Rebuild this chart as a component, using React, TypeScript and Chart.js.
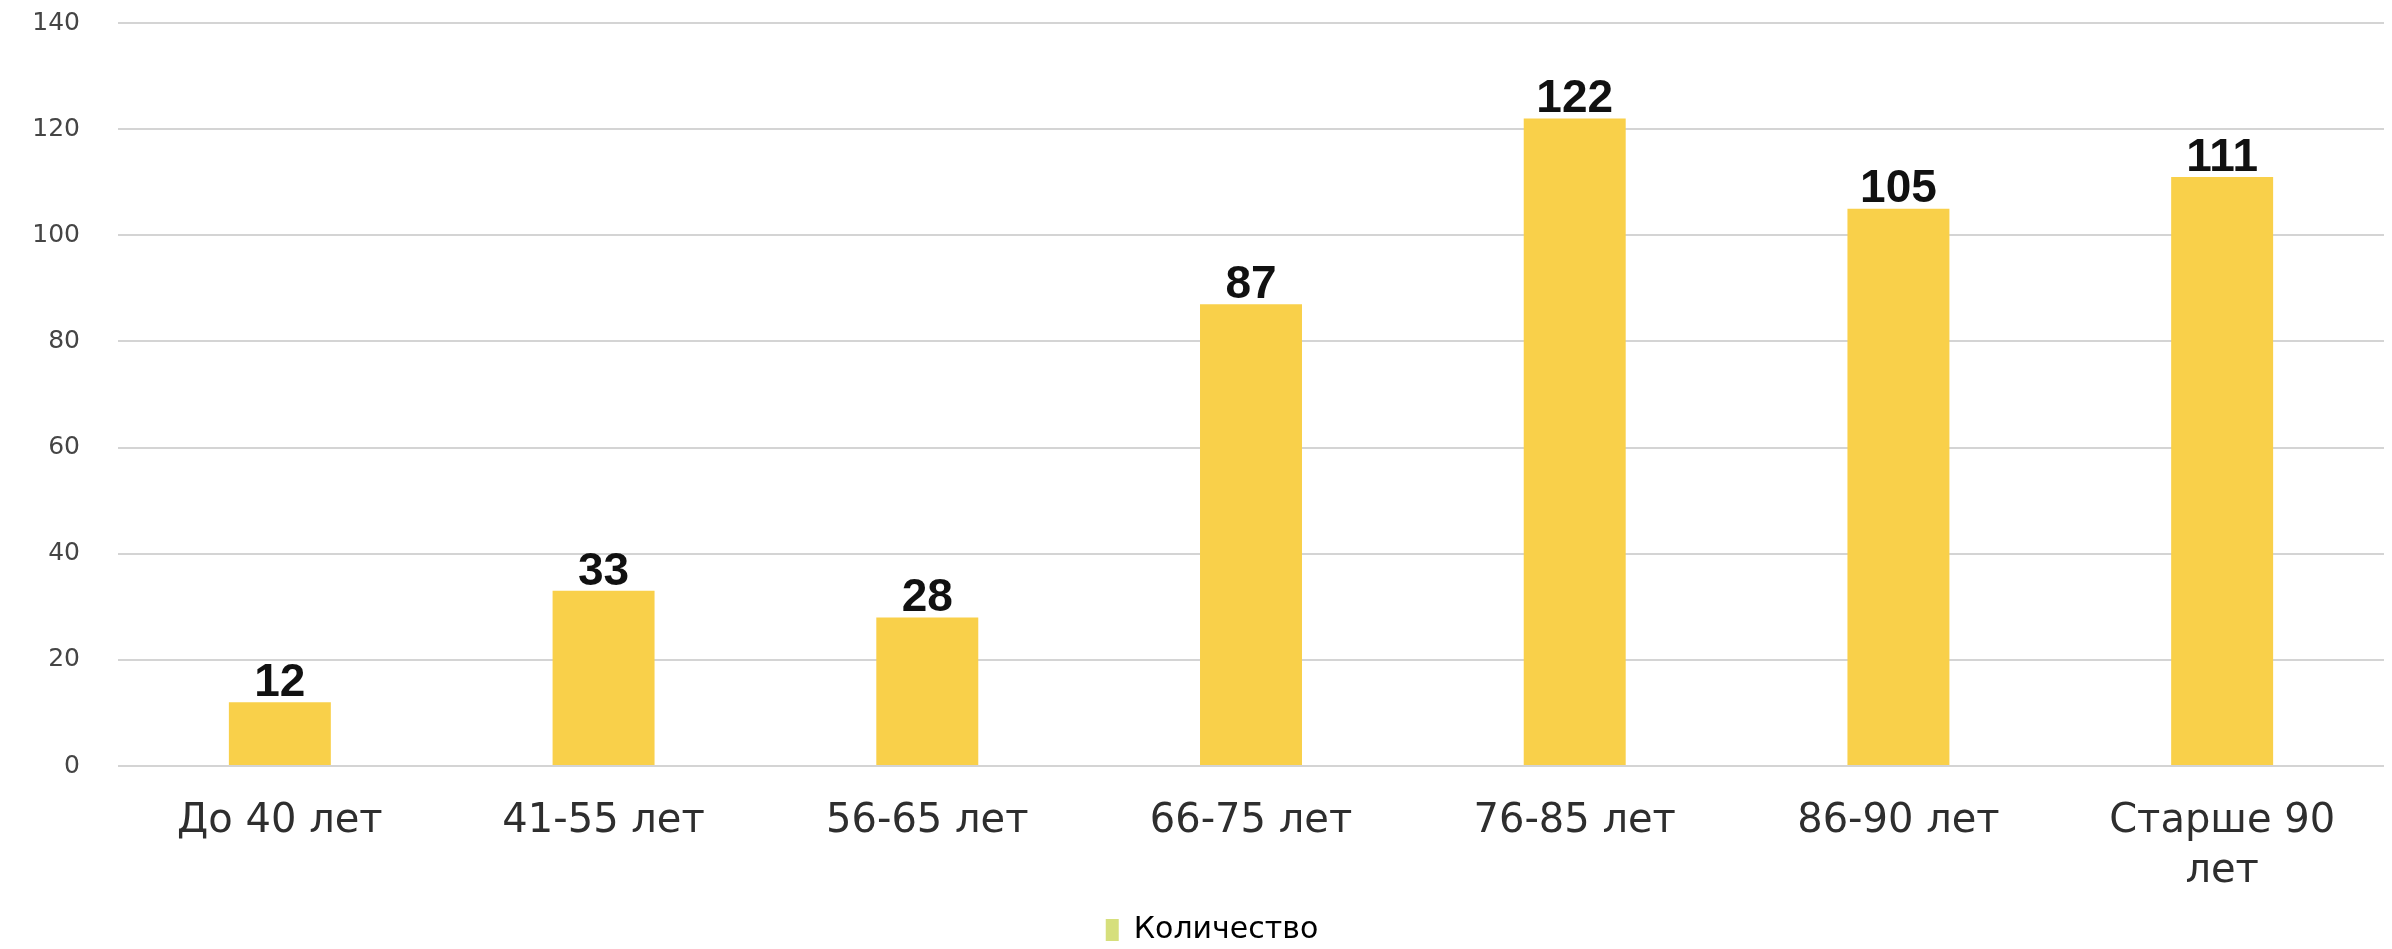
import React, { useEffect, useRef } from "react";
import { Chart, registerables } from "chart.js";

Chart.register(...registerables);

const categories: (string | string[])[] = [
  "До 40 лет",
  "41-55 лет",
  "56-65 лет",
  "66-75 лет",
  "76-85 лет",
  "86-90 лет",
  ["Старше 90", "лет"],
];
const counts: number[] = [12, 33, 28, 87, 122, 105, 111];
const seriesName = "Количество";
const yTicks = { min: 0, max: 140, step: 20 };

const barColor = "#F9D04A";
const legendColor = "#D6DF7C";

const valueLabels = {
  id: "valueLabels",
  afterDatasetsDraw(chart: any) {
    const ctx = chart.ctx;
    const meta = chart.getDatasetMeta(0);
    ctx.save();
    ctx.font = "bold 46px 'Liberation Sans', Arial, sans-serif";
    ctx.fillStyle = "#111111";
    ctx.textAlign = "center";
    ctx.textBaseline = "bottom";
    meta.data.forEach((el: any, i: number) => {
      ctx.fillText(String(chart.data.datasets[0].data[i]), el.x, el.y + 4);
    });
    ctx.restore();
  },
};

const legendShift = {
  id: "legendShift",
  afterLayout(chart: any) {
    if (chart.legend) {
      chart.legend.left += 20;
      chart.legend.right += 20;
    }
  },
};

export default function App() {
  const ref = useRef<HTMLCanvasElement | null>(null);
  useEffect(() => {
    document.body.style.margin = "0";
    document.body.style.overflow = "hidden";
    if (!ref.current) return;
    const chart = new Chart(ref.current, {
      type: "bar",
      data: {
        labels: categories,
        datasets: [
          {
            label: seriesName,
            data: counts,
            backgroundColor: barColor,
            borderWidth: 0,
            categoryPercentage: 1,
            barPercentage: 0.315,
          },
        ],
      },
      options: {
        animation: false,
        responsive: false,
        maintainAspectRatio: false,
        devicePixelRatio: 1,
        layout: { padding: { left: 0, right: 8, top: 23, bottom: -6 } },
        plugins: {
          tooltip: { enabled: false },
          legend: {
            display: true,
            position: "bottom",
            labels: {
              font: { family: "'DejaVu Sans', sans-serif", size: 30 },
              color: "#2b2b38",
              boxWidth: 13,
              boxHeight: 22,
              padding: 6,
              generateLabels: () => [
                {
                  text: seriesName,
                  fillStyle: legendColor,
                  strokeStyle: legendColor,
                  lineWidth: 0,
                  hidden: false,
                  datasetIndex: 0,
                },
              ],
            },
          },
        },
        scales: {
          x: {
            grid: { display: false, drawTicks: false },
            border: { display: false },
            ticks: {
              font: { family: "'DejaVu Sans', sans-serif", size: 40, lineHeight: 1.25 },
              color: "#2e2e2e",
              padding: 31,
              maxRotation: 0,
              autoSkip: false,
            },
            afterFit: (scale: any) => {
              scale.height = 143;
            },
          },
          y: {
            min: yTicks.min,
            max: yTicks.max,
            border: { display: false },
            grid: { color: "#d4d4d4", lineWidth: 2, drawTicks: false },
            ticks: {
              stepSize: yTicks.step,
              font: { family: "'DejaVu Sans', sans-serif", size: 25 },
              color: "#454545",
              padding: 38,
            },
            afterFit: (scale: any) => {
              scale.width = 118;
              scale.paddingTop = 0;
              scale.paddingBottom = 0;
            },
          },
        },
      },
      plugins: [valueLabels, legendShift],
    });
    return () => chart.destroy();
  }, []);
  return <canvas ref={ref} width={2392} height={949} style={{ display: "block" }} />;
}
